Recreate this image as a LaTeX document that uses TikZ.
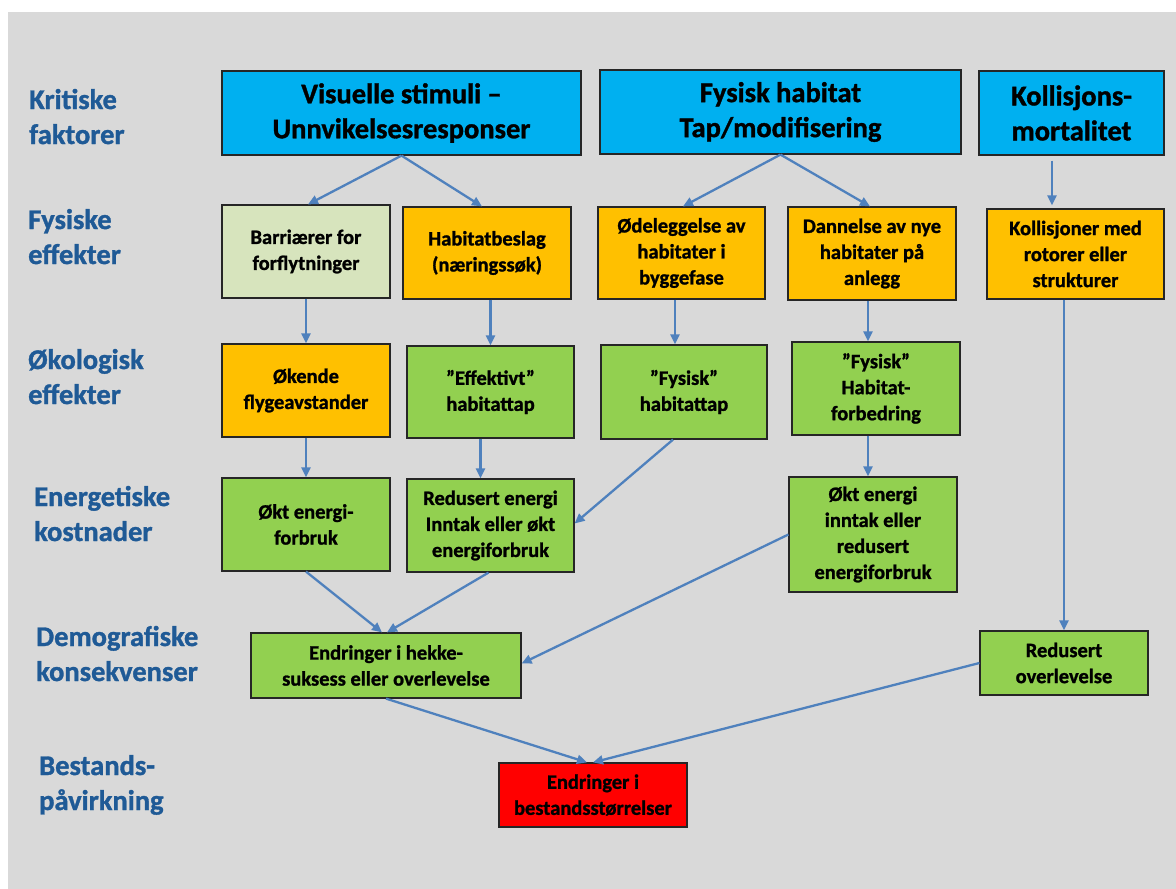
\documentclass[tikz,border=0pt]{standalone}
\usepackage{fontspec}
\setmainfont{Carlito}[BoldFeatures={FakeBold=1.2}]
\usetikzlibrary{arrows.meta,calc}
\definecolor{bgc}{HTML}{D9D9D9}
\definecolor{bluec}{HTML}{00B0F0}
\definecolor{orangec}{HTML}{FFC000}
\definecolor{greenc}{HTML}{92D050}
\definecolor{lgreenc}{HTML}{D7E4BD}
\definecolor{redc}{HTML}{FF0000}
\definecolor{arrc}{HTML}{4F81BD}
\definecolor{labc}{HTML}{1F5A96}
\definecolor{edgec}{HTML}{262626}
\tikzset{
  box/.style={draw=edgec, line width=1.2pt, inner sep=0pt, align=center,
    font=\fontsize{20.5}{26}\selectfont\bfseries},
  titlebox/.style={box, fill=bluec, font=\fontsize{28.5}{35}\selectfont\bfseries},
  rowlabel/.style={anchor=base west, inner sep=0pt, align=left, text=labc,
    font=\fontsize{28.5}{35}\selectfont\bfseries},
  arr/.style={draw=arrc, line width=2.3pt, -{Triangle[length=10pt,width=9pt]}}
}
\begin{document}
\begin{tikzpicture}[x=1pt,y=-1pt]
\useasboundingbox (0,0) rectangle (1176,889);
\fill[white] (0,0) rectangle (1176,889);
\fill[bgc] (8,12) rectangle (1176,889);

% row labels (anchor at baseline of the last line)
\node[rowlabel] (l1) at (29,144) {Kritiske\\faktorer};
\node[rowlabel] (l2) at (28,264) {Fysiske\\effekter};
\node[rowlabel] (l3) at (28,404) {Økologisk\\effekter};
\node[rowlabel] (l4) at (34,541) {Energetiske\\kostnader};
\node[rowlabel] (l5) at (36,681) {Demografiske\\konsekvenser};
\node[rowlabel] (l6) at (39,810) {Bestands-\\påvirkning};

% row 1
\node[titlebox, minimum width=359pt, minimum height=84pt] (V) at (401.5,113) {Visuelle stimuli –\\Unnvikelsesresponser};
\node[titlebox, minimum width=361pt, minimum height=84pt] (F) at (780.5,112) {Fysisk habitat\\Tap/modifisering};
\node[titlebox, minimum width=185pt, minimum height=84pt] (K) at (1071.5,113) {Kollisjons-\\mortalitet};

% row 2
\node[box, fill=lgreenc, minimum width=168pt, minimum height=93pt] (B1) at (306,251.5) {Barriærer for\\forflytninger};
\node[box, fill=orangec, minimum width=168pt, minimum height=92pt] (B2) at (487,253) {Habitatbeslag\\(næringssøk)};
\node[box, fill=orangec, minimum width=167pt, minimum height=92pt] (B3) at (681.5,253) {Ødeleggelse av\\habitater i\\byggefase};
\node[box, fill=orangec, minimum width=168pt, minimum height=93pt] (B4) at (872,253.5) {Dannelse av nye\\habitater på\\anlegg};
\node[box, fill=orangec, minimum width=177pt, minimum height=90pt] (B5) at (1075.5,254) {Kollisjoner med\\rotorer eller\\strukturer};

% row 3
\node[box, fill=orangec, minimum width=168pt, minimum height=93pt] (C1) at (306,390.5) {Økende\\flygeavstander};
\node[box, fill=greenc, minimum width=167pt, minimum height=92pt] (C2) at (490.5,392) {”Effektivt”\\habitattap};
\node[box, fill=greenc, minimum width=166pt, minimum height=94pt] (C3) at (684,392) {”Fysisk”\\habitattap};
\node[box, fill=greenc, minimum width=168pt, minimum height=93pt] (C4) at (876,388.5) {”Fysisk”\\Habitat-\\forbedring};

% row 4
\node[box, fill=greenc, minimum width=168pt, minimum height=93pt] (D1) at (306,524.5) {Økt energi-\\forbruk};
\node[box, fill=greenc, minimum width=167pt, minimum height=93pt] (D2) at (490.5,525.5) {Redusert energi\\Inntak eller økt\\energiforbruk};
\node[box, fill=greenc, minimum width=168pt, minimum height=115pt] (D3) at (873,534.5) {Økt energi\\inntak eller\\redusert\\energiforbruk};

% row 5
\node[box, fill=greenc, minimum width=270pt, minimum height=65pt] (E1) at (386,665.5) {Endringer i hekke-\\suksess eller overlevelse};
\node[box, fill=greenc, minimum width=168pt, minimum height=64pt] (E2) at (1064,663) {Redusert\\overlevelse};

% row 6
\node[box, fill=redc, minimum width=188pt, minimum height=64pt] (P) at (593,795) {Endringer i\\bestandsstørrelser};

% connectors
\draw[arr] (V.south) -- ([xshift=2pt]B1.north);
\draw[arr] (V.south) -- ([xshift=-5pt]B2.north);
\draw[arr] (F.south) -- ([xshift=1.5pt]B3.north);
\draw[arr] (F.south) -- ([xshift=-2pt]B4.north);
\draw[arr] ($(K.south)+(-19.5,5)$) -- ($(B5.north)+(-23.5,-3)$);
\draw[arr] (B1.south) -- (C1.north);
\draw[arr] (B2.south -| C2.north) -- (C2.north);
\draw[arr] ([xshift=-6.5pt]B3.south) -- ([xshift=-9pt]C3.north);
\draw[arr] ([xshift=-4pt]B4.south) -- ([xshift=-8pt]C4.north);
\draw[arr] (C1.south) -- (D1.north);
\draw[arr] ([xshift=-10pt]C2.south) -- ([xshift=-10pt]D2.north);
\draw[arr] ([xshift=-11pt]C3.south) -- ([yshift=2pt]D2.east);
\draw[arr] ([xshift=-8pt]C4.south) -- ([xshift=-5pt]D3.north);
\draw[arr] (D1.south) -- ([xshift=-4pt]E1.north);
\draw[arr] ([xshift=-2pt]D2.south) -- ([xshift=1pt]E1.north);
\draw[arr] (D3.west) -- ([yshift=2pt]E1.east);
\draw[arr] (B5.south -| E2.north) -- (E2.north);
\draw[arr] (E1.south) -- ([xshift=-6pt]P.north);
\draw[arr] (E2.west) -- (P.north);
\end{tikzpicture}
\end{document}
